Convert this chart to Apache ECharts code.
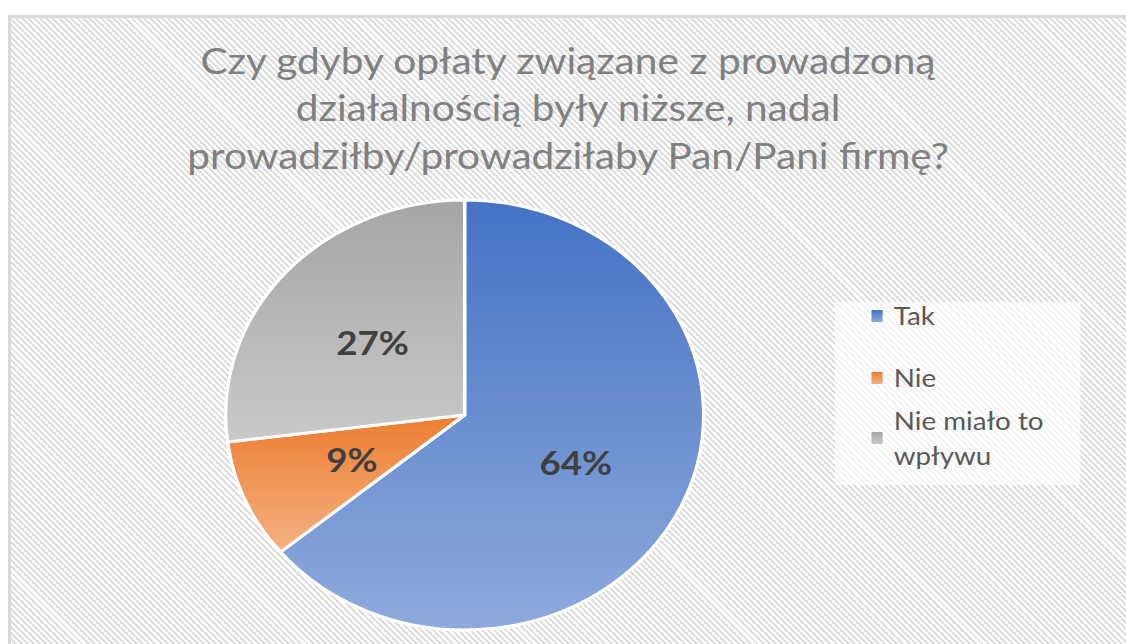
<!DOCTYPE html>
<html>
<head>
<meta charset="utf-8">
<script src="https://cdn.jsdelivr.net/npm/echarts@6/dist/echarts.min.js"></script>
<style>
  html, body { margin: 0; padding: 0; background: #ffffff; width: 1126px; height: 644px; overflow: hidden; }
  #frame {
    position: absolute; left: 8px; top: 15px; width: 1118px; height: 629px;
    box-sizing: border-box;
    border-left: 3px solid #d9d9d9; border-top: 3px solid #d9d9d9;
    background: repeating-linear-gradient(45deg, #ffffff 0px, #ffffff 2.2px, #dedede 2.2px, #dedede 4.3px);
  }
  #chart {
    position: absolute; left: 0; top: 0; width: 1013px; height: 644px;
    transform: scaleX(1.1116); transform-origin: 0 0;
  }
</style>
</head>
<body>
<div id="frame"></div>
<div id="chart"></div>
<script>
// ---- data ----
const titleLines = ['Czy gdyby opłaty związane z prowadzoną', 'działalnością były niższe, nadal', 'prowadziłby/prowadziłaby Pan/Pani firmę?'];
const categories = ['Tak', 'Nie', 'Nie miało to wpływu'];
const values = [64, 9, 27];

// ---- styles ----
const gradients = [
  ['#4472c4', '#8faadc'],
  ['#ed7d31', '#f4b183'],
  ['#a5a5a5', '#c9c9c9']
];
function grad(c) {
  return { type: 'linear', x: 0, y: 0, x2: 0, y2: 1, colorStops: [{ offset: 0, color: c[0] }, { offset: 1, color: c[1] }] };
}

const chart = echarts.init(document.getElementById('chart'), null, { renderer: 'svg' });
const legendText = { fontFamily: 'Lato', fontSize: 25, color: '#595959', lineHeight: 35, padding: [0, 0, 0, 5] };
const legendCommon = {
  orient: 'vertical', left: 784, padding: 0, icon: 'rect',
  itemWidth: 10, itemHeight: 12,
  itemStyle: { borderWidth: 0 }
};
chart.setOption({
  backgroundColor: 'transparent',
  animation: false,
  title: {
    text: titleLines.join('\n'),
    left: 506, top: 31, textAlign: 'center',
    textStyle: { fontFamily: 'Lato', fontSize: 36.5, fontWeight: 'normal', color: '#808080', lineHeight: 47.5 }
  },
  graphic: [{
    type: 'rect', z: -1,
    shape: { x: 751, y: 302, width: 221, height: 183 },
    style: { fill: 'rgba(255,255,255,0.65)' }
  }],
  legend: [Object.assign({}, legendCommon, {
    top: 298.5, itemGap: 27,
    data: [categories[0], categories[1]],
    textStyle: legendText
  }), Object.assign({}, legendCommon, {
    top: 385.5,
    data: [categories[2]],
    formatter: function (n) { return n.replace('to ', 'to\n'); },
    textStyle: Object.assign({}, legendText, { padding: [35, 0, 0, 5] })
  })],
  series: [{
    type: 'pie',
    center: [418, 415],
    radius: 215,
    startAngle: 90,
    clockwise: true,
    label: {
      show: true, position: 'inside', formatter: '{c}%',
      fontFamily: 'Lato', fontSize: 33, fontWeight: 'bold', color: '#404040'
    },
    labelLine: { show: false },
    itemStyle: { borderColor: '#ffffff', borderWidth: 3 },
    emphasis: { disabled: true },
    data: categories.map((name, i) => ({ name: name, value: values[i], itemStyle: { color: grad(gradients[i]) } }))
  }]
});
</script>
</body>
</html>
